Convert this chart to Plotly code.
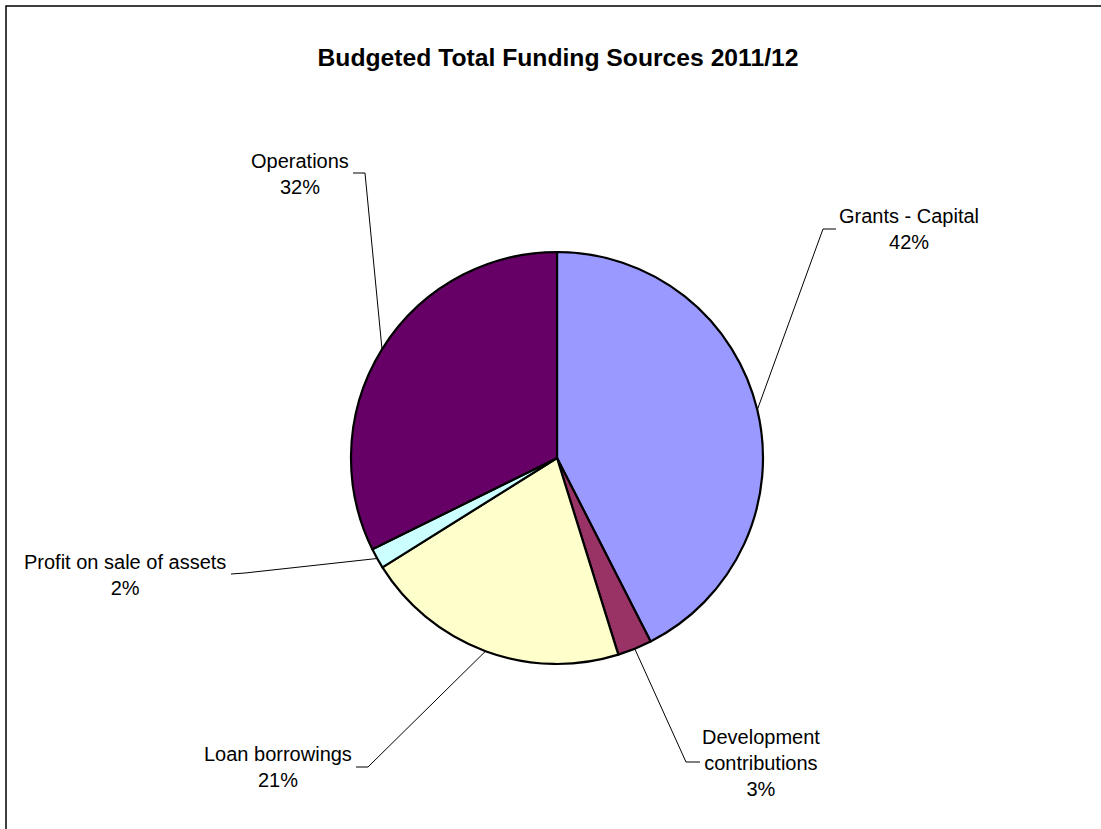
import numpy as np
import plotly.graph_objects as go

W, H = 1101, 829

categories = ["Grants - Capital", "Development contributions", "Loan borrowings",
              "Profit on sale of assets", "Operations"]
values = [42.49, 2.7, 20.9, 1.6, 32.31]
label_text = ["Grants - Capital", "Development<br>contributions", "Loan borrowings",
              "Profit on sale of assets", "Operations"]
colors = ["#9999FF", "#993366", "#FFFFCC", "#CCFFFF", "#660066"]

# layout constants (pixels)
CX, CY, R = 557, 458, 206
# label centers and elbow points of leader lines (pixels)
label_pos = [(909, 229), (761, 763), (278, 767), (125, 575), (300, 174)]
elbow_pts = [((836, 229), (823, 229)), ((700, 762), (686, 762)),
             ((356, 767), (368, 767)), ((231, 574), (245, 573)),
             ((353, 173), (365, 173))]

total = sum(values)
fractions = [v / total for v in values]
cum = np.cumsum([0] + fractions)
mids = [(cum[i] + cum[i + 1]) / 2 for i in range(len(values))]

fig = go.Figure()
fig.add_trace(go.Pie(
    labels=categories, values=values, sort=False, direction="clockwise",
    rotation=0, marker=dict(colors=colors, line=dict(color="black", width=2.2)),
    textinfo="none", hoverinfo="label+percent", showlegend=False,
    domain=dict(x=[(CX - R) / W, (CX + R) / W], y=[1 - (CY + R) / H, 1 - (CY - R) / H]),
))

annotations = []
for i, cat in enumerate(categories):
    pct = round(fractions[i] * 100)
    lx, ly = label_pos[i]
    annotations.append(dict(
        x=lx, y=ly, xref="x", yref="y", text=f"{label_text[i]}<br>{pct}%",
        showarrow=False, xanchor="center", yanchor="middle",
        font=dict(family="Liberation Sans, Arial", size=20, color="black"),
    ))
    ang = mids[i] * 2 * np.pi
    ex = CX + R * np.sin(ang)
    ey = CY - R * np.cos(ang)
    (ax, ay), (bx, by) = elbow_pts[i]
    fig.add_trace(go.Scatter(
        x=[ax, bx, ex], y=[ay, by, ey], mode="lines",
        line=dict(color="black", width=1), hoverinfo="skip", showlegend=False,
        xaxis="x", yaxis="y",
    ))

# chart border (left and top)
fig.add_trace(go.Scatter(
    x=[6, 6, W + 10], y=[H + 10, 6, 6], mode="lines",
    line=dict(color="black", width=1.5), hoverinfo="skip", showlegend=False,
))

fig.update_layout(
    width=W, height=H, margin=dict(l=0, r=0, t=0, b=0),
    paper_bgcolor="white", plot_bgcolor="rgba(0,0,0,0)",
    xaxis=dict(range=[0, W], visible=False, domain=[0, 1], fixedrange=True),
    yaxis=dict(range=[H, 0], visible=False, domain=[0, 1], fixedrange=True),
    annotations=annotations,
    title=dict(text="<b>Budgeted Total Funding Sources 2011/12</b>",
               x=558 / W, y=1 - 57 / H, xanchor="center", yanchor="middle",
               font=dict(family="Liberation Sans, Arial", size=24.7, color="black")),
)

fig.write_html("out.html")
